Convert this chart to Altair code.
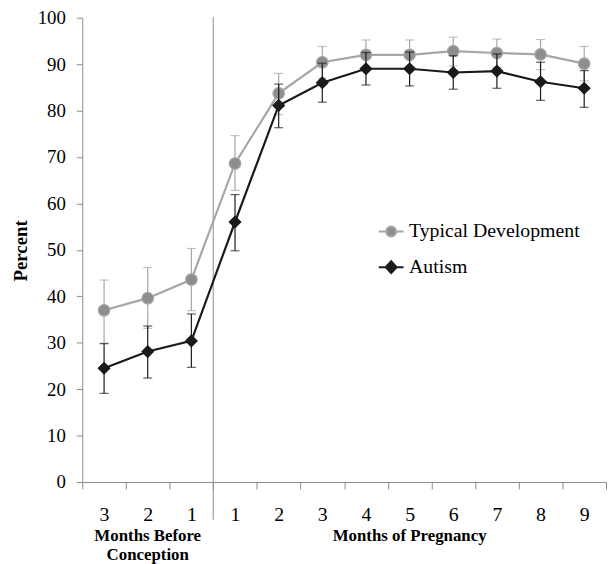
import altair as alt
import pandas as pd

# ---- data ----
periods = ["B3", "B2", "B1", "P1", "P2", "P3", "P4", "P5", "P6", "P7", "P8", "P9"]
tick_labels = ["3", "2", "1", "1", "2", "3", "4", "5", "6", "7", "8", "9"]
series_names = ["Typical Development", "Autism"]

td_mean = [37.0, 39.6, 43.6, 68.6, 83.7, 90.4, 92.0, 92.0, 92.8, 92.4, 92.1, 90.1]
td_low = [29.9, 33.1, 36.9, 62.8, 79.1, 86.9, 88.7, 88.7, 89.6, 89.3, 88.8, 86.4]
td_high = [43.5, 46.2, 50.3, 74.6, 88.0, 93.8, 95.2, 95.2, 95.8, 95.4, 95.3, 93.8]

au_mean = [24.5, 28.1, 30.4, 56.0, 81.1, 86.0, 89.0, 89.0, 88.2, 88.5, 86.2, 84.8]
au_low = [19.1, 22.4, 24.7, 49.8, 76.3, 81.8, 85.5, 85.3, 84.6, 84.8, 82.2, 80.7]
au_high = [29.8, 33.6, 36.2, 61.9, 85.7, 90.2, 92.5, 92.6, 91.8, 92.2, 90.4, 88.6]

axis_titles = ["Months Before\nConception", "Months of Pregnancy"]
axis_title_anchor = ["B2", "P5"]
divider_at = ["P1"]

# ---- styles ----
TD_LINE = "#a6a6a6"
TD_FILL = "#8e8e8e"
AU_COL = "#1a1a1a"
AXIS_COL = "#8c8c8c"
SERIF = "Liberation Serif"

rows = []
for name, m, lo, hi in [
    (series_names[0], td_mean, td_low, td_high),
    (series_names[1], au_mean, au_low, au_high),
]:
    for p, a, b, c in zip(periods, m, lo, hi):
        rows.append({"period": p, "series": name, "mean": a, "low": b, "high": c})
df = pd.DataFrame(rows)

label_map = "{" + ",".join(f"'{p}':'{l}'" for p, l in zip(periods, tick_labels)) + "}"

x_scale = alt.Scale(type="band", domain=periods, paddingInner=0, paddingOuter=0)
y_scale = alt.Scale(domain=[0, 100], nice=False)

x_axis = alt.Axis(
    title=None, labelExpr=f"{label_map}[datum.value]", labelAngle=0,
    labelFont=SERIF, labelFontSize=20, labelColor="black",
    tickBand="extent", tickSize=7, tickColor=AXIS_COL, domainColor=AXIS_COL,
    labelPadding=16, grid=False,
)
y_axis = alt.Axis(
    title="Percent", values=list(range(0, 101, 10)),
    labelFont=SERIF, labelFontSize=19, labelColor="black", labelPadding=11,
    tickSize=6, tickColor=AXIS_COL, domainColor=AXIS_COL, grid=False,
    titleFont=SERIF, titleFontSize=19, titleFontWeight="bold", titleColor="black",
    titleAngle=-90, titleX=-62, titleY=235, titleAlign="center", titleBaseline="middle",
)

X = alt.X("period:N", scale=x_scale, axis=x_axis, sort=periods)
base = alt.Chart(df)


def series_layers(name, col, fill, shape):
    sub = base.transform_filter(alt.datum.series == name)
    Y = alt.Y("mean:Q", scale=y_scale, axis=y_axis)
    err = sub.mark_rule(color=col, strokeWidth=1.2).encode(
        x=X, y=alt.Y("low:Q", scale=y_scale, axis=y_axis), y2="high:Q")
    cap_lo = sub.mark_tick(color=col, size=9, thickness=1.2).encode(
        x=X, y=alt.Y("low:Q", scale=y_scale, axis=y_axis))
    cap_hi = sub.mark_tick(color=col, size=9, thickness=1.2).encode(
        x=X, y=alt.Y("high:Q", scale=y_scale, axis=y_axis))
    line = sub.mark_line(color=col, strokeWidth=2.2).encode(x=X, y=Y)
    pts = sub.mark_point(shape=shape, filled=True, fill=fill, stroke=col, strokeWidth=1.2,
                         size=135, opacity=1).encode(x=X, y=Y)
    return [err, cap_lo, cap_hi, line, pts]


CIRCLE_LINE = "M-2.5,0L-1,0M1,0L2.5,0M-1,0A1,1,0,1,1,1,0A1,1,0,1,1,-1,0Z"
DIAMOND_LINE = "M-2.5,0L2.5,0M-1.1,0L0,-1.2L1.1,0L0,1.2Z"

legend = alt.Legend(
    title=None, orient="none", legendX=302, legendY=206, padding=0,
    labelFont=SERIF, labelFontSize=20, labelColor="black", labelOffset=8, labelLimit=0,
    symbolSize=100, rowPadding=16, symbolOpacity=1, symbolStrokeWidth=2,
)

legend_layer = base.mark_point(filled=True, opacity=0).encode(
    x=X,
    y=alt.Y("mean:Q", scale=y_scale, axis=y_axis),
    color=alt.Color("series:N", scale=alt.Scale(domain=series_names, range=[TD_FILL, AU_COL]), legend=legend),
    shape=alt.Shape("series:N", scale=alt.Scale(domain=series_names, range=[CIRCLE_LINE, DIAMOND_LINE]), legend=legend),
    stroke=alt.Stroke("series:N", scale=alt.Scale(domain=series_names, range=[TD_LINE, AU_COL]), legend=legend),
)

divider = alt.Chart(pd.DataFrame({"period": divider_at})).mark_rule(
    color=AXIS_COL, strokeWidth=1
).encode(
    x=alt.X("period:N", scale=x_scale, axis=x_axis, sort=periods, bandPosition=0),
    y=alt.value(-1), y2=alt.value(507),
)

titles = alt.Chart(pd.DataFrame({"period": axis_title_anchor, "text": axis_titles})).mark_text(
    font=SERIF, fontSize=17, fontWeight="bold", color="black",
    baseline="top", align="center", lineBreak="\n", lineHeight=19,
).encode(
    x=alt.X("period:N", scale=x_scale, axis=x_axis, sort=periods),
    y=alt.value(516), text="text:N",
)

layers = ([divider] + series_layers(series_names[0], TD_LINE, TD_FILL, "circle")
          + series_layers(series_names[1], AU_COL, AU_COL, "diamond") + [legend_layer, titles])

chart = alt.layer(*layers).properties(
    width=529, height=469,
    padding={"left": 75, "top": 7, "right": 2, "bottom": 80},
    autosize=alt.AutoSizeParams(type="none"),
).configure_view(stroke=None)

chart.save("out.html", embed_options={"renderer": "svg", "actions": False})
